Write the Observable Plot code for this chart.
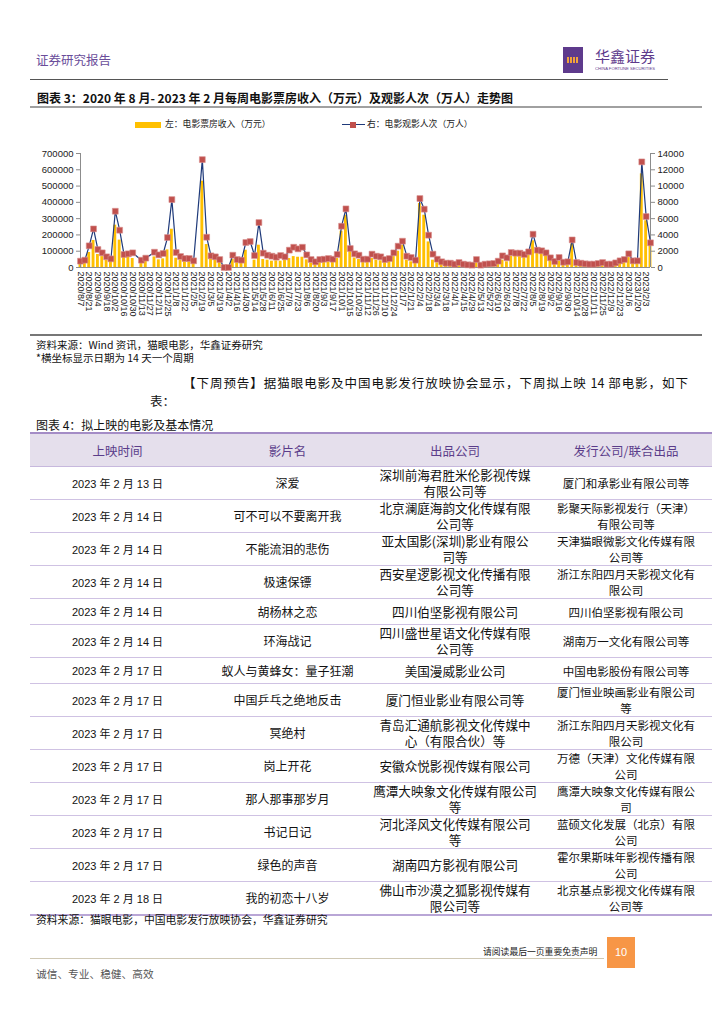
<!DOCTYPE html>
<html><head><meta charset="utf-8">
<script src="https://cdn.jsdelivr.net/npm/d3@7"></script>
<script src="https://cdn.jsdelivr.net/npm/@observablehq/plot@0.6"></script>
<style>
body{margin:0;background:#fff;}
#page{position:relative;width:724px;height:1024px;overflow:hidden;font-family:"Noto Sans CJK SC","Noto Sans",sans-serif;color:#111;}
.abs{position:absolute;white-space:nowrap;line-height:1;}
.num{font-family:"Liberation Sans",Arial,sans-serif;}
table{border-collapse:collapse;position:absolute;left:30px;top:432px;width:682px;table-layout:fixed;font-size:12px;}
th{background:#E5DFEC;color:#5B3D8A;font-weight:400;height:30px;border-top:2px solid #A48CC6;border-bottom:1px solid #C7B8DD;font-size:12.5px;}
td{text-align:center;vertical-align:middle;border-bottom:1px solid #CFC2E3;line-height:16px;white-space:pre-line;padding:0;color:#111;}
td.c1{font-size:11px;}
td.c2{font-size:12px;}
td.c3{font-size:12.6px;}
td.c4{font-size:11.5px;}
tr:last-child td{border-bottom:2px solid #B9A6D6;}
</style></head>
<body><div id="page">
<div class="abs" style="left:36px;top:54px;font-size:12.5px;color:#6A4D9A;">证券研究报告</div>
<div class="abs" style="left:563px;top:47px;width:20px;height:26px;background:#5E3A8C;"></div>
<div class="abs" style="left:567px;top:57px;width:12px;height:6px;background:repeating-linear-gradient(90deg,#F2A23A 0 1.5px,transparent 1.5px 3px);"></div>
<div class="abs" style="left:595px;top:48px;font-size:15px;color:#5E3A8C;">华鑫证券</div>
<div class="abs" style="left:595px;top:67px;font-size:8px;color:#5E3A8C;transform:scale(0.52);transform-origin:0 0;font-family:'Liberation Sans';">CHINA FORTUNE SECURITIES</div>
<div class="abs" style="left:30px;top:79px;width:638px;height:1px;background:#555;"></div>
<div class="abs" style="left:37px;top:92px;font-size:12px;font-weight:bold;">图表 3：2020 年 8 月- 2023 年 2 月每周电影票房收入（万元）及观影人次（万人）走势图</div>
<div class="abs" style="left:30px;top:106px;width:672px;height:2px;background:#A0A0A0;"></div>

<div class="abs" style="left:135px;top:122px;width:26px;height:6px;background:#FFC000;"></div>
<div class="abs" style="left:165px;top:120px;font-size:8.8px;color:#222;">左：电影票房收入（万元）</div>
<div class="abs" style="left:342px;top:124px;width:23px;height:1.3px;background:#1F3A7A;"></div>
<div class="abs" style="left:350px;top:122px;width:6px;height:6px;background:#C0504D;"></div>
<div class="abs" style="left:367px;top:120px;font-size:8.8px;color:#222;">右：电影观影人次（万人）</div>

<div id="chart" class="abs" style="left:0;top:140px;"></div>
<div class="abs" style="left:30px;top:334px;width:672px;height:1.5px;background:#777;"></div>

<div class="abs" style="left:36px;top:340px;font-size:10.5px;">资料来源：Wind 资讯，猫眼电影，华鑫证券研究</div>
<div class="abs" style="left:36px;top:353px;font-size:10.5px;">*横坐标显示日期为 14 天一个周期</div>
<div class="abs" style="left:183px;top:377px;width:505px;font-size:12.5px;text-align:justify;text-align-last:justify;">【下周预告】据猫眼电影及中国电影发行放映协会显示，下周拟上映 14 部电影，如下</div>
<div class="abs" style="left:150px;top:395px;font-size:12.5px;">表：</div>
<div class="abs" style="left:36px;top:419px;font-size:12px;">图表 4：拟上映的电影及基本情况</div>
<table id="tbl"></table>
<div class="abs" style="left:36px;top:914px;font-size:10.8px;">资料来源：猫眼电影，中国电影发行放映协会，华鑫证券研究</div>
<div class="abs" style="left:483px;top:948px;font-size:8.8px;color:#222;">请阅读最后一页重要免责声明</div>
<div class="abs" style="left:30px;top:958px;width:574px;height:1px;background:#CFC8B4;"></div>
<div class="abs num" style="left:607px;top:937px;width:28px;height:31px;background:#F79646;color:#fff;font-size:11px;line-height:31px;text-align:center;">10</div>
<div class="abs" style="left:36px;top:969px;font-size:10.7px;color:#555;">诚信、专业、稳健、高效</div>
</div>
<script>
// weekly box office (万元), left axis
const boxOffice = [
 30000, 32000, 92000, 166000, 80000, 67000, 43000, 37000, 260000, 168000,
 67000, 67000, 55000, null, 29000, 39000, null, 65000, 47000, 53000,
 108000, 235000, 57000, 45000, 35000, 35000, 29000, null, 530000, 141000,
 49000, 45000, 31000, 0, 0, 49000, 31000, 29000, 106000, null,
 45000, 137000, 49000, 45000, 39000, 41000, 39000, 45000, 55000, 67000,
 63000, 63000, 47000, 27000, 18000, 31000, 31000, 35000, 35000, 55000,
 223000, 321000, 100000, 58000, 49000, 35000, 35000, 55000, 45000, 41000,
 31000, 39000, 67000, 100000, 137000, 45000, 35000, 29000, 393000, 321000,
 157000, 45000, 29000, 18000, 20000, 20000, 15000, 23000, 15000, 12000,
 11000, 30000, 11000, 15000, 17000, 18000, 25000, 45000, 35000, 70000,
 70000, 67000, 61000, 76000, 164000, 92000, 86000, 72000, 45000, 22000,
 39000, 18000, 22000, 145000, 14000, 20000, 17000, 15000, 15000, 18000,
 23000, 15000, 15000, 22000, 35000, 35000, 61000, 29000, 29000, 575000,
 287000, 137000];
// weekly admissions (万人), right axis
const admissions = [
 780, 900, 2660, 4740, 2210, 1800, 1310, 1060, 6910, 4580,
 1600, 1680, 1800, null, 900, 1150, null, 1880, 1550, 1720,
 3680, 8340, 1840, 1350, 1100, 1100, 820, null, 13250, 3720,
 1430, 1310, 980, 0, 0, 1510, 980, 900, 3070, 3190,
 1470, 5520, 1760, 1510, 1390, 1270, 1470, 1310, 2130, 2490,
 2290, 2490, 1550, 980, 700, 980, 1020, 1100, 1020, 1600,
 5070, 7200, 2330, 1680, 1510, 1020, 1020, 1640, 1390, 1310,
 980, 1100, 1800, 2620, 3230, 1390, 1230, 900, 8470, 7160,
 3970, 1640, 1020, 700, 530, 530, 410, 610, 410, 330,
 290, 980, 290, 410, 450, 490, 780, 1430, 1190, 1840,
 1760, 1760, 1600, 1920, 4090, 2130, 2050, 1800, 1190, 740,
 1230, 650, 700, 3390, 610, 530, 450, 410, 410, 490,
 610, 410, 410, 570, 820, 980, 1680, 820, 820, 12970,
 6260, 3030];
const tickLabels = ["2020/8/7","2020/8/21","2020/9/4","2020/9/18","2020/10/2","2020/10/16","2020/10/30","2020/11/13","2020/11/27","2020/12/11","2020/12/25",
"2021/1/8","2021/1/22","2021/2/5","2021/2/19","2021/3/5","2021/3/19","2021/4/2","2021/4/16","2021/4/30","2021/5/14","2021/5/28","2021/6/11","2021/6/25","2021/7/9","2021/7/23","2021/8/6","2021/8/20","2021/9/3","2021/9/17","2021/10/1","2021/10/15","2021/10/29","2021/11/12","2021/11/26","2021/12/10","2021/12/24",
"2022/1/7","2022/1/21","2022/2/4","2022/2/18","2022/3/4","2022/3/18","2022/4/1","2022/4/15","2022/4/29","2022/5/13","2022/5/27","2022/6/10","2022/6/24","2022/7/8","2022/7/22","2022/8/5","2022/8/19","2022/9/2","2022/9/16","2022/9/30","2022/10/14","2022/10/28","2022/11/11","2022/11/25","2022/12/9","2022/12/23",
"2023/1/6","2023/1/20","2023/2/3"];
const leftTicks = [0,100000,200000,300000,400000,500000,600000,700000];
const ratio = 50; // right axis 2000 ↔ left axis 100000

const releaseDates = ["2023 年 2 月 13 日","2023 年 2 月 14 日","2023 年 2 月 14 日","2023 年 2 月 14 日","2023 年 2 月 14 日","2023 年 2 月 14 日","2023 年 2 月 17 日","2023 年 2 月 17 日","2023 年 2 月 17 日","2023 年 2 月 17 日","2023 年 2 月 17 日","2023 年 2 月 17 日","2023 年 2 月 17 日","2023 年 2 月 18 日"];
const films = ["深爱","可不可以不要离开我","不能流泪的悲伤","极速保镖","胡杨林之恋","环海战记","蚁人与黄蜂女：量子狂潮","中国乒乓之绝地反击","冥绝村","岗上开花","那人那事那岁月","书记日记","绿色的声音","我的初恋十八岁"];
const producers = ["深圳前海君胜米伦影视传媒\n有限公司等","北京澜庭海韵文化传媒有限\n公司等","亚太国影(深圳)影业有限公\n司等","西安星逻影视文化传播有限\n公司等","四川伯坚影视有限公司","四川盛世星语文化传媒有限\n公司等","美国漫威影业公司","厦门恒业影业有限公司等","青岛汇通航影视文化传媒中\n心（有限合伙）等","安徽众悦影视传媒有限公司","鹰潭大映象文化传媒有限公司\n等","河北泽风文化传媒有限公司\n等","湖南四方影视有限公司","佛山市沙漠之狐影视传媒有\n限公司等"];
const distributors = ["厦门和承影业有限公司等","影聚天际影视发行（天津）\n有限公司等","天津猫眼微影文化传媒有限\n公司等","浙江东阳四月天影视文化有\n限公司","四川伯坚影视有限公司","湖南万一文化有限公司等","中国电影股份有限公司等","厦门恒业映画影业有限公司\n等","浙江东阳四月天影视文化有\n限公司","万德（天津）文化传媒有限\n公司","鹰潭大映象文化传媒有限公\n司","蓝硕文化发展（北京）有限\n公司","霍尔果斯味年影视传播有限\n公司","北京基点影视文化传媒有限\n公司等"];
const headers = ["上映时间","影片名","出品公司","发行公司/联合出品"];

const bars = boxOffice.map((v,i)=>({i, v})).filter(d=>d.v!==null);
const pts = admissions.map((v,i)=>({i, v})).filter(d=>d.v!==null);
const n = boxOffice.length;

const chart = Plot.plot({
  width: 700, height: 195,
  marginLeft: 80, marginRight: 50, marginTop: 13, marginBottom: 68,
  x: {domain: [0, n-1]},
  y: {domain: [0, 700000]},
  style: {fontFamily: "'Liberation Sans', Arial, sans-serif", fontSize: "9.5px", color: "#222", overflow: "visible"},
  marks: [
    Plot.rectY(bars, {x1: d=>d.i-0.33, x2: d=>d.i+0.33, y: "v", fill: "#FFC000"}),
    Plot.ruleY([0], {stroke: "#8C8C8C"}),
    Plot.ruleX([0, n-1], {stroke: "#8C8C8C"}),
    Plot.line(pts, {x: "i", y: d=>d.v*ratio, stroke: "#1F3A7A", strokeWidth: 1.2}),
    Plot.dot(pts, {x: "i", y: d=>d.v*ratio, symbol: "square", r: 3.3, fill: "#C0504D", stroke: "#D98F8D", strokeWidth: 0.6}),
    Plot.axisY({anchor: "left", ticks: leftTicks, tickFormat: d=>String(d), tickSize: 4, tickPadding: 3, label: null, stroke: "#8C8C8C"}),
    Plot.axisY({anchor: "right", ticks: leftTicks, tickFormat: d=>String(d/ratio), tickSize: 4, tickPadding: 3, label: null, stroke: "#8C8C8C"}),
    Plot.axisX({ticks: tickLabels.map((_,k)=>k*2), tickFormat: i=>tickLabels[i/2], tickRotate: 90, tickSize: 0, tickPadding: 4, label: null, fontSize: 9})
  ]
});
document.getElementById("chart").appendChild(chart);

const tbl = document.getElementById("tbl");
tbl.innerHTML = `<colgroup><col style="width:175px"><col style="width:165px"><col style="width:170px"><col style="width:172px"></colgroup>` +
  `<tr>${headers.map(h=>`<th>${h}</th>`).join("")}</tr>` +
  releaseDates.map((d,k)=>{
    const two = producers[k].includes("\n") || distributors[k].includes("\n");
    return `<tr style="height:${two?33:26}px"><td class="num c1">${d.replace(/(年|月|日)/g,'<span style="font-family:Noto Sans CJK SC">$1</span>')}</td><td class="c2">${films[k]}</td><td class="c3">${producers[k]}</td><td class="c4">${distributors[k]}</td></tr>`;
  }).join("");
</script>
</body></html>
